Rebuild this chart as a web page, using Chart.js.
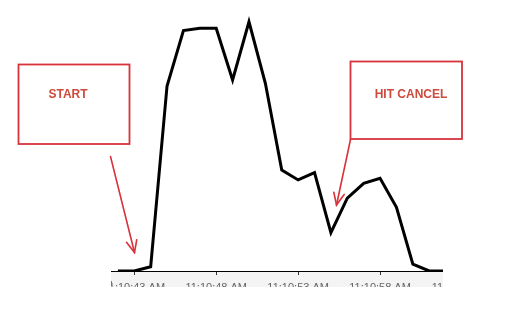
<!DOCTYPE html>
<html>
<head>
<meta charset="utf-8">
<script src="https://cdn.jsdelivr.net/npm/chart.js@4.4.0/dist/chart.umd.min.js"></script>
<style>
  html, body { margin: 0; padding: 0; background: #fff; }
  #wrap { width: 509px; height: 310px; position: relative; }
</style>
</head>
<body>
<div id="wrap"><canvas id="c" width="509" height="310"></canvas></div>
<script>
// sample index (one sample per second) and load values
const sampleIndex = [-1, 0, 1, 2, 3, 4, 5, 6, 7, 8, 9, 10, 11, 12, 13, 14, 15, 16, 17, 18, 19];
const loadValues  = [0, 0, 1.6, 70.9, 92.1, 93.0, 93.0, 73.2, 95.5, 71.9, 38.7, 34.9, 37.7, 14.7, 27.9, 33.6, 35.5, 24.4, 2.6, 0, 0];
// tick positions (sample index) and their time labels
const tickIndex  = [0, 5, 10, 15, 20];
const tickLabels = ["11:10:43 AM", "11:10:48 AM", "11:10:53 AM", "11:10:58 AM", "11:11:03 AM"];
// annotation texts
const annotations = ["START", "HIT CANCEL"];

const points = sampleIndex.map((x, i) => ({ x: x, y: loadValues[i] }));

const RED = '#d8333b';
const TXT = '#cc4b3c';

function arrow(ctx, x1, y1, x2, y2) {
  ctx.beginPath();
  ctx.moveTo(x1, y1);
  ctx.lineTo(x2, y2);
  ctx.stroke();
  const ang = Math.atan2(y2 - y1, x2 - x1);
  const len = 13, spread = 0.42;
  ctx.beginPath();
  ctx.moveTo(x2 - len * Math.cos(ang - spread), y2 - len * Math.sin(ang - spread));
  ctx.lineTo(x2, y2);
  ctx.lineTo(x2 - len * Math.cos(ang + spread), y2 - len * Math.sin(ang + spread));
  ctx.stroke();
}

const decor = {
  id: 'decor',
  beforeDraw(chart) {
    const ctx = chart.ctx;
    const a = chart.chartArea;
    ctx.save();
    ctx.fillStyle = '#f4f4f4';
    ctx.fillRect(a.left, a.bottom + 1, a.right - a.left, 287 - a.bottom - 1);
    ctx.restore();
  },
  afterDraw(chart) {
    const ctx = chart.ctx;
    const a = chart.chartArea;
    ctx.save();
    // crop of the screenshot: hide axis text outside the captured region
    ctx.fillStyle = '#ffffff';
    ctx.fillRect(0, a.bottom + 1, a.left, 310 - a.bottom);
    ctx.fillRect(a.right, a.bottom - 1, 509 - a.right, 310 - a.bottom + 1);
    ctx.fillRect(0, 287, 509, 23);
    // small edge mark at left of label row
    ctx.fillStyle = '#777';
    ctx.fillRect(a.left, 281, 1, 5);

    // boxes
    ctx.strokeStyle = RED;
    ctx.lineWidth = 1.8;
    ctx.strokeRect(18.5, 64.5, 111, 79.5);
    ctx.strokeRect(350.5, 61.5, 111.5, 77.5);

    // texts
    ctx.fillStyle = TXT;
    ctx.font = 'bold 12px "Liberation Sans", Arial, sans-serif';
    ctx.textAlign = 'center';
    ctx.textBaseline = 'middle';
    ctx.fillText(annotations[0], 68, 95);
    ctx.fillText(annotations[1], 411, 95);

    // arrows
    ctx.lineWidth = 1.6;
    ctx.strokeStyle = RED;
    ctx.lineCap = 'round';
    arrow(ctx, 110.5, 156.5, 134.5, 252.5);
    arrow(ctx, 350.5, 139.5, 336.5, 205);
    ctx.restore();
  }
};

new Chart(document.getElementById('c'), {
  type: 'line',
  data: {
    datasets: [{
      data: points,
      borderColor: '#000000',
      borderWidth: 3,
      pointRadius: 0,
      tension: 0,
      fill: false
    }]
  },
  options: {
    responsive: false,
    animation: false,
    events: [],
    layout: { padding: { left: 111, right: 66, top: 10, bottom: 0 } },
    plugins: { legend: { display: false }, tooltip: { enabled: false } },
    scales: {
      x: {
        type: 'linear',
        min: -1.42,
        max: 18.84,
        afterBuildTicks(s) { s.ticks = tickIndex.map(v => ({ value: v })); },
        afterFit(s) { s.height = 39; },
        border: { display: true, color: '#000000', width: 1 },
        grid: { drawOnChartArea: false, drawTicks: true, tickLength: 4, color: '#333333' },
        ticks: {
          autoSkip: false,
          maxRotation: 0,
          padding: 6,
          color: '#666666',
          font: { family: '"Liberation Sans", Arial, sans-serif', size: 11 },
          callback(v) { const k = tickIndex.indexOf(v); return k >= 0 ? tickLabels[k] : ''; }
        }
      },
      y: {
        display: false,
        min: 0,
        max: 100
      }
    }
  },
  plugins: [decor]
});
</script>
</body>
</html>
